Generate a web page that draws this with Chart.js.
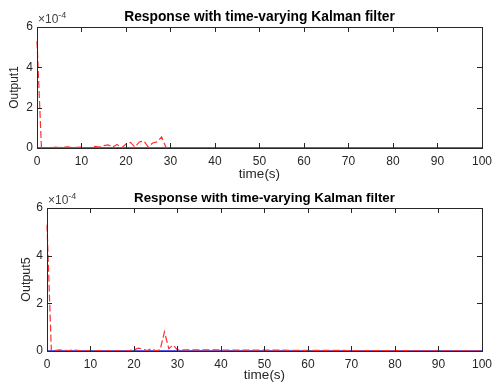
<!DOCTYPE html>
<html>
<head>
<meta charset="utf-8">
<script src="https://cdn.jsdelivr.net/npm/chart.js@4"></script>
<style>
  html, body { margin: 0; padding: 0; background: #fff; }
  .box { position: absolute; left: 0; width: 498px; }
</style>
</head>
<body>
<div class="box" style="top:0;height:190px"><canvas id="topChart"></canvas></div>
<div class="box" style="top:190px;height:198px"><canvas id="bottomChart"></canvas></div>
<script>
// time axis (s) and responses, values in units of 1e-4
const timeSteps = [0, 1, 2, 3, 4, 5, 6, 7, 8, 9, 10, 11, 12, 13, 14, 15, 16, 17, 18, 19, 20,
  21, 22, 23, 24, 25, 26, 27, 28, 29, 30, 100]
const output1Est = [5.3, 0, 0, 0.02, 0.05, 0.02, 0.04, 0.06, 0.01, 0.03, 0.05, 0, 0.03, 0.08, 0.05,
  0.12, 0.15, 0.05, 0.18, 0, 0.2, 0.28, 0.05, 0.3, 0.35, 0.05, 0.25, 0.3, 0.55, 0.02, 0, 0]
const output5Est = [5.3, 0, 0.03, 0.05, 0.03, 0.02, 0.05, 0.03, 0.01, 0.02, 0, 0.01, 0.02, 0, 0.01,
  0, 0.02, 0, 0.01, 0.02, 0.05, 0.12, 0.08, 0.02, 0.1, 0, 0.05, 0.8, 0.1, 0.25, 0.05, 0]
const trueTime = [0, 100]
const trueValue = [0, 0]
const xTicks = [0, 10, 20, 30, 40, 50, 60, 70, 80, 90, 100]
const yTicks = [0, 2, 4, 6]
const titleText = 'Response with time-varying Kalman filter'

const FONT = '"Liberation Sans", Arial, sans-serif'

function pts(xs, ys) {
  return xs.map((x, i) => ({ x: x, y: ys[i] }))
}

// MATLAB-like box, inward ticks and labels
function decorPlugin(o) {
  return {
    id: 'decor',
    afterDraw(chart) {
      const ctx = chart.ctx
      const a = chart.chartArea
      const xs = chart.scales.x
      const ys = chart.scales.y
      ctx.save()
      ctx.strokeStyle = '#262626'
      ctx.lineWidth = 1
      ctx.strokeRect(a.left + 0.5, a.top + 0.5, a.right - a.left, a.bottom - a.top)
      ctx.beginPath()
      xTicks.forEach(v => {
        const px = Math.round(xs.getPixelForValue(v)) + 0.5
        ctx.moveTo(px, a.bottom); ctx.lineTo(px, a.bottom - 5)
        ctx.moveTo(px, a.top); ctx.lineTo(px, a.top + 5)
      })
      yTicks.forEach(v => {
        const py = Math.round(ys.getPixelForValue(v)) + 0.5
        ctx.moveTo(a.left, py); ctx.lineTo(a.left + 5, py)
        ctx.moveTo(a.right, py); ctx.lineTo(a.right - 5, py)
      })
      ctx.stroke()

      ctx.fillStyle = '#000'
      ctx.textAlign = 'center'
      ctx.textBaseline = 'middle'
      ctx.font = 'bold ' + o.titleSize + 'px ' + FONT
      ctx.fillText(titleText, (a.left + a.right) / 2, o.titleY)

      ctx.fillStyle = '#262626'
      ctx.font = '13.5px ' + FONT
      ctx.fillText('time(s)', (a.left + a.right) / 2, o.xTitleY)
      ctx.font = o.yTitleSize + 'px ' + FONT
      ctx.save()
      ctx.translate(o.yTitleX, (a.top + a.bottom) / 2)
      ctx.rotate(-Math.PI / 2)
      ctx.fillText(o.yTitle, 0, 0)
      ctx.restore()

      // exponent label
      ctx.fillStyle = '#404040'
      ctx.textAlign = 'left'
      ctx.font = '12px ' + FONT
      const base = '\u00d710'
      ctx.fillText(base, a.left + 1, a.top - 7)
      const w = ctx.measureText(base).width
      ctx.font = '9px ' + FONT
      ctx.fillText('-4', a.left + 1 + w, a.top - 11)
      ctx.restore()
    }
  }
}

function makeChart(id, est, o) {
  return new Chart(document.getElementById(id), {
    type: 'line',
    data: {
      datasets: [
        {
          data: pts(timeSteps, est),
          borderColor: '#ff3030',
          borderWidth: 1.2,
          borderDash: [7, 3],
          pointRadius: 0,
          tension: 0,
          clip: 4,
          order: 1,
        },
        {
          data: pts(trueTime, trueValue),
          borderColor: '#2323d8',
          borderWidth: 1.5,
          pointRadius: 0,
          clip: 4,
          order: 2,
        },
      ],
    },
    options: {
      responsive: true,
      maintainAspectRatio: false,
      animation: false,
      layout: { padding: { top: o.top, right: o.right, left: 0, bottom: 0 } },
      plugins: { legend: { display: false }, tooltip: { enabled: false } },
      scales: {
        x: {
          type: 'linear', min: 0, max: 100,
          afterBuildTicks: s => { s.ticks = xTicks.map(v => ({ value: v })) },
          afterFit: s => { s.height = o.xHeight },
          grid: { display: false, drawTicks: false, tickLength: 0 },
          border: { display: false },
          ticks: { padding: 6, color: '#262626', font: { family: FONT, size: 12 }, maxRotation: 0 },
        },
        y: {
          type: 'linear', min: 0, max: 6,
          afterBuildTicks: s => { s.ticks = yTicks.map(v => ({ value: v })) },
          afterFit: s => { s.width = o.left },
          grid: { display: false, drawTicks: false, tickLength: 0 },
          border: { display: false },
          ticks: { padding: 4, color: '#262626', font: { family: FONT, size: 12 } },
        },
      },
    },
    plugins: [decorPlugin(o)],
  })
}

makeChart('topChart', output1Est, {
  top: 27, right: 9, left: 37, xHeight: 42,
  titleY: 17, titleSize: 13.8, xTitleY: 174.5, yTitleX: 15, yTitle: 'Output1', yTitleSize: 12,
})
makeChart('bottomChart', output5Est, {
  top: 18, right: 11, left: 47, xHeight: 37,
  titleY: 8, titleSize: 13.3, xTitleY: 185.5, yTitleX: 27, yTitle: 'Output5', yTitleSize: 12.5,
})
</script>
</body>
</html>
